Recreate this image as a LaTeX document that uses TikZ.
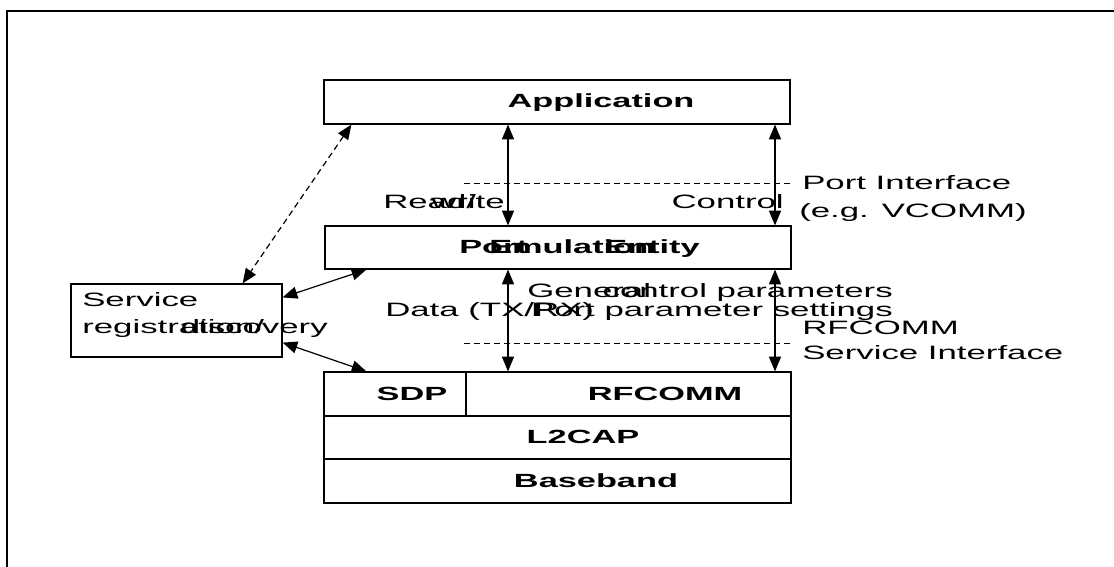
\documentclass[tikz,border=0pt]{standalone}
\usepackage{fontspec}
\usetikzlibrary{arrows.meta,calc,fit}
\newfontfamily\widefont{Liberation Sans}[FakeStretch=1.8]
\begin{document}
\begin{tikzpicture}[x=0.75pt,y=-0.75pt,
  box/.style={draw,line width=0.9pt,inner sep=0pt},
  txt/.style={inner sep=0pt,font=\widefont\fontsize{14.5pt}{17pt}\selectfont},
  btxt/.style={inner sep=0pt,font=\widefont\bfseries\fontsize{14.3pt}{17pt}\selectfont},
  dbl/.style={line width=0.9pt,{Triangle[length=11pt,width=9pt]}-{Triangle[length=11pt,width=9pt]}},
  ddbl/.style={dbl,dash pattern=on 4.5pt off 3pt},
  iface/.style={line width=0.7pt,dash pattern=on 4.5pt off 3pt}]
\useasboundingbox (0,0) rectangle (1114,567);
% outer frame, cut by the page edge
\draw[line width=2.2pt] (7,567) -- (7,11) -- (1114,11);

% layer boxes
\node[box,fit={(324,80) (790,124)}] (app) {};
\node[box,fit={(325,226) (791,269)}] (pee) {};
\node[box,fit={(71,284) (282,357)}] (svc) {};
\node[box,fit={(324,372) (466,416)}] (sdp) {};
\node[box,fit={(466,372) (791,416)}] (rfc) {};
\node[box,fit={(324,416) (791,459)}] (l2c) {};
\node[box,fit={(324,459) (791,503)}] (bb) {};

% box texts
\node[btxt,anchor=base] (appt) at (601,108) {Application};
\node[btxt,anchor=base west] (peea) at (459,253) {Port};
\node[btxt,anchor=base west] (peeb) at (489,253) {Emulation};
\node[btxt,anchor=base east] (peec) at (700,253) {Entity};
\node[btxt,anchor=base] (sdpt) at (412,400) {SDP};
\node[btxt,anchor=base] (rfct) at (665,400) {RFCOMM};
\node[btxt,anchor=base] (l2ct) at (583,443) {L2CAP};
\node[btxt,anchor=base] (bbt) at (596,487) {Baseband};
\node[txt,anchor=base west] (svca) at (82,306) {Service};
\node[txt,anchor=base west] (svcb) at (82,333) {registration/};
\node[txt,anchor=base east] (svcc) at (328,333) {discovery};

% interface lines and their labels
\coordinate (pil) at (464,183);
\coordinate (pir) at (790,183);
\coordinate (sil) at (464,343);
\coordinate (sir) at (790,343);
\draw[iface] (pil) -- (pir);
\draw[iface] (sil) -- (sir);
\node[txt,anchor=base west] (pi1) at (802,189) {Port Interface};
\node[txt,anchor=base west] (pi2) at (799,217) {(e.g. VCOMM)};
\node[txt,anchor=base west] (si1) at (802,334) {RFCOMM};
\node[txt,anchor=base west] (si2) at (802,359) {Service Interface};

% flow labels
\node[txt,anchor=base west] (rwa) at (383,208) {Read/};
\node[txt,anchor=base east] (rwb) at (505,208) {write};
\node[txt,anchor=base east] (ctl) at (784,208) {Control};
\node[txt,anchor=base west] (gena) at (527,297) {General};
\node[txt,anchor=base east] (genb) at (893,297) {control parameters};
\node[txt,anchor=base west] (data) at (385,316) {Data (TX/RX)};
\node[txt,anchor=base east] (pps) at (893,316) {Port parameter settings};

% vertical flows
\coordinate (lx) at (508,0);
\coordinate (rx) at (775,0);
\draw[dbl] (app.south -| lx) -- (pee.north -| lx);
\draw[dbl] (app.south -| rx) -- (pee.north -| rx);
\draw[dbl] (pee.south -| lx) -- (rfc.north -| lx);
\draw[dbl] (pee.south -| rx) -- (rfc.north -| rx);

% service discovery links
\draw[ddbl] ($(app.south west)+(28,0)$) -- ($(svc.north east)+(-40,0)$);
\draw[dbl] ($(pee.south west)+(42,0)$) -- ($(svc.north east)+(0,14)$);
\draw[dbl] ($(svc.south east)+(0,-15)$) -- ($(sdp.north west)+(43,0)$);
\end{tikzpicture}
\end{document}
